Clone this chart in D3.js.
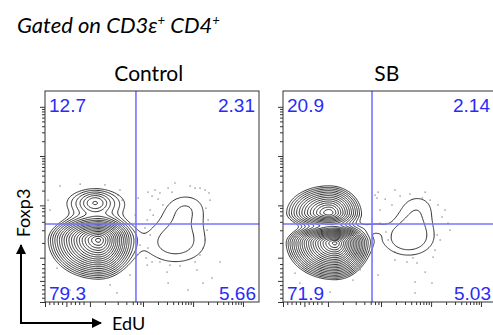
<!DOCTYPE html>
<html><head><meta charset="utf-8">
<script src="https://cdn.jsdelivr.net/npm/d3@7"></script>
<style>body{margin:0;background:#fff}</style>
</head><body>
<svg id="c" width="493" height="335"></svg>
<script>
// ---------- data ----------
const panelTitles = ["Control", "SB"];
const quadrantValues = [["12.7", "2.31", "79.3", "5.66"], ["20.9", "2.14", "71.9", "5.03"]];
const gateEdU = [42.5, 41.6];
const gateFoxp3 = [37, 37];
// density peaks: [EdU, Foxp3, spreadLeft, spreadRight, spreadDown, spreadUp, weight, shape]
const controlPeaks = [
  [25, 29.4, 3.8, 2.7, 3.0, 2.0, 130, 1.25],
  [23.4, 47, 10, 10, 5, 5, 2.3, 2],
  [23.4, 47, 3.5, 3.5, 2.5, 2.5, 2.6, 2],
  [61, 28, 15, 15, 10, 10, 1.48, 2],
  [66, 46, 10, 10, 7, 7, 1.0, 2]
];
const sbPeaks = [
  [24.3, 28, 3.4, 2.4, 2.6, 1.4, 220, 1.25],
  [21.5, 42.2, 4.0, 3.0, 1.5, 2.6, 40, 1.25],
  [42, 35.5, 6, 4, 2, 2, 0.6, 2],
  [58.6, 30, 11.6, 11.6, 8, 8, 1.6, 2],
  [63, 46, 9, 9, 7, 7, 1.0, 2]
];
const controlEvents = [
  [48.1,52.1],[50.0,50.2],[51.4,53.1],[52.8,48.8],[53.7,51.7],[55.1,46.0],[49.1,43.6],[50.5,41.2],
  [47.7,38.9],[46.7,35.1],[49.1,31.8],[48.1,25.6],[47.2,20.9],[50.0,19.0],[53.7,19.0],[58.4,17.5],
  [63.1,17.1],[70.1,19.0],[72.4,22.3],[73.8,25.6],[74.8,29.4],[75.7,34.1],[76.2,38.9],[75.2,44.5],
  [77.1,48.3],[76.6,51.7],[74.8,53.1],[72.4,54.0],[70.1,54.0],[59.3,52.1],[57.5,54.0],[60.7,56.4],
  [67.8,55.0],[47.7,17.5],[57.0,14.2],[71.0,15.2],[73.8,9.0],[57.5,9.0],[66.8,5.7],[33.6,4.3],
  [5.6,16.1],[39.7,12.8],[44.4,27.0],[30.4,8.1],[78.0,11.4],[81.8,19.0],[43.5,49.3],[42.1,41.2],
  [11.7,5.7],[2.3,43.6],[1.4,48.3],[35.0,53.1],[36.0,48.3],[7.0,55.0],[16.4,55.9],[28.0,55.5],[34.1,50.7]
];
const sbEvents = [
  [43.9,49.3],[47.7,48.8],[50.9,46.0],[54.7,50.2],[65.0,49.3],[68.7,48.3],[72.4,46.0],[74.3,40.3],
  [77.1,37.4],[72.0,31.8],[73.4,29.4],[71.0,24.6],[45.3,43.6],[45.3,37.4],[52.3,23.7],[60.7,20.9],
  [52.3,19.9],[57.9,19.0],[62.6,18.5],[70.1,21.3],[44.4,12.8],[61.7,9.5],[69.6,9.0],[61.7,4.3],
  [32.7,10.4],[22.0,4.7],[5.6,13.7],[43.0,50.7],[44.4,52.1],[52.3,53.1],[59.3,51.2],[66.4,52.1],
  [75.7,43.6],[78.0,34.1],[48.1,33.2],[49.1,29.4],[7.9,9.0],[36.0,15.2],[66.4,14.2]
];
const axisMajorTicks = [0, 10, 21, 45.8, 69.2, 92.5];
const axisMinorTicks = [2, 4, 6, 8, 12, 14, 16, 18, 28, 34, 38, 41, 43, 44.6,
  52.8, 57.0, 59.9, 62.2, 64.0, 65.6, 66.9, 68.1, 76.2, 80.4, 83.3, 85.6, 87.4, 89.0, 90.3, 91.5];
const contourBase = 1, contourRatio = 1.3, contourCount = 26;

// ---------- layout ----------
const svg = d3.select("#c");
const panelLeft = [45, 283], panelW = [214, 211], panelTop = 91, panelH = 211;
const peaksList = [controlPeaks, sbPeaks];
const eventsList = [controlEvents, sbEvents];
const font = "Lato, 'Open Sans', sans-serif";

svg.append("text").attr("x", 17).attr("y", 33)
  .attr("font-family", font).attr("font-style", "italic").attr("font-size", 22)
  .call(t => {
    t.append("tspan").text("Gated on CD3ε");
    t.append("tspan").attr("font-size", 13).attr("dy", -8).text("+");
    t.append("tspan").attr("dy", 8).text(" CD4");
    t.append("tspan").attr("font-size", 13).attr("dy", -8).text("+");
  });

const levels = d3.range(contourCount).map(k => contourBase * Math.pow(contourRatio, k));
const lo = -5, hi = 105, n = 220, step = (hi - lo) / n;

function dens(peaks, x, y) {
  let s = 0;
  for (const [cx, cy, sl, sr, sd, su, w, p] of peaks) {
    const dx = x - cx, dy = y - cy;
    const r = Math.hypot(dx / (dx < 0 ? sl : sr), dy / (dy < 0 ? sd : su));
    s += w * Math.exp(-0.5 * Math.pow(r, p));
  }
  return s;
}

[0, 1].forEach(i => {
  const x0 = panelLeft[i], pw = panelW[i];
  const xs = d3.scaleLinear().domain([0, 100]).range([x0, x0 + 214]);
  const ys = d3.scaleLinear().domain([0, 100]).range([panelTop + panelH, panelTop]);
  const g = svg.append("g");
  const clipId = "clip" + i;
  svg.append("clipPath").attr("id", clipId).append("rect")
    .attr("x", x0).attr("y", panelTop).attr("width", pw).attr("height", panelH);

  svg.append("text").attr("x", xs(48.5)).attr("y", 81).attr("text-anchor", "middle")
    .attr("font-family", font).attr("font-size", 21).text(panelTitles[i]);

  const vals = new Float64Array(n * n);
  for (let j = 0; j < n; j++) for (let k = 0; k < n; k++) {
    vals[j * n + k] = dens(peaksList[i], lo + (k + 0.5) * step, lo + (j + 0.5) * step);
  }
  const cs = d3.contours().size([n, n]).thresholds(levels)(vals);
  const proj = d3.geoTransform({ point(x, y) { this.stream.point(xs(lo + x * step), ys(lo + y * step)); } });
  const path = d3.geoPath(proj);
  const cg = g.append("g").attr("clip-path", `url(#${clipId})`);
  cg.selectAll("path").data(cs).join("path").attr("d", path)
    .attr("fill", "none").attr("stroke", "#1a1a1a").attr("stroke-width", 0.9);
  cg.selectAll("rect.ev").data(eventsList[i]).join("rect").attr("class", "ev")
    .attr("x", d => xs(d[0]) - 0.5).attr("y", d => ys(d[1]) - 0.5)
    .attr("width", 1.1).attr("height", 1.1).attr("fill", "#555");

  g.append("line").attr("x1", xs(gateEdU[i])).attr("x2", xs(gateEdU[i]))
    .attr("y1", panelTop).attr("y2", panelTop + panelH).attr("stroke", "#7474ff").attr("stroke-width", 1.6);
  g.append("line").attr("x1", x0).attr("x2", x0 + pw)
    .attr("y1", ys(gateFoxp3[i])).attr("y2", ys(gateFoxp3[i])).attr("stroke", "#7474ff").attr("stroke-width", 1.6);

  g.append("rect").attr("x", x0).attr("y", panelTop).attr("width", pw).attr("height", panelH)
    .attr("fill", "none").attr("stroke", "#333").attr("stroke-width", 1);

  const ax = d3.axisBottom(xs).tickValues(axisMajorTicks).tickSize(5).tickFormat("");
  const axm = d3.axisBottom(xs).tickValues(axisMinorTicks).tickSize(3).tickFormat("");
  const ay = d3.axisLeft(ys).tickValues(axisMajorTicks).tickSize(5).tickFormat("");
  const aym = d3.axisLeft(ys).tickValues(axisMinorTicks).tickSize(3).tickFormat("");
  [ax, axm].forEach(a => g.append("g").attr("transform", `translate(0,${panelTop + panelH})`).call(a)
    .call(s => { s.select(".domain").remove(); s.selectAll("line").attr("stroke", "#333"); }));
  [ay, aym].forEach(a => g.append("g").attr("transform", `translate(${x0},0)`).call(a)
    .call(s => { s.select(".domain").remove(); s.selectAll("line").attr("stroke", "#333"); }));

  const qf = t => t.attr("font-family", "'Liberation Sans', Arial, sans-serif").attr("font-size", 19).attr("fill", "#2b2bf7");
  const q = quadrantValues[i];
  g.append("text").attr("x", x0 + 4).attr("y", 112).text(q[0]).call(qf);
  g.append("text").attr("x", x0 + pw - 4).attr("y", 112).attr("text-anchor", "end").text(q[1]).call(qf);
  g.append("text").attr("x", x0 + 4).attr("y", 300).text(q[2]).call(qf);
  g.append("text").attr("x", x0 + pw - 3).attr("y", 300).attr("text-anchor", "end").text(q[3]).call(qf);
});

svg.append("defs").append("marker").attr("id", "ah").attr("viewBox", "0 0 10 10")
  .attr("refX", 9).attr("refY", 5).attr("markerWidth", 5).attr("markerHeight", 5)
  .attr("orient", "auto").append("path").attr("d", "M0,0L10,5L0,10Z").attr("fill", "#000");
svg.append("path").attr("d", "M21,323L21,245").attr("stroke", "#000").attr("stroke-width", 2).attr("marker-end", "url(#ah)");
svg.append("path").attr("d", "M20,323L101,323").attr("stroke", "#000").attr("stroke-width", 2).attr("marker-end", "url(#ah)");
svg.append("text").attr("transform", "translate(30,213) rotate(-90)").attr("text-anchor", "middle")
  .attr("font-family", font).attr("font-size", 18).text("Foxp3");
svg.append("text").attr("x", 112).attr("y", 330)
  .attr("font-family", font).attr("font-size", 18).text("EdU");
</script>
</body></html>
